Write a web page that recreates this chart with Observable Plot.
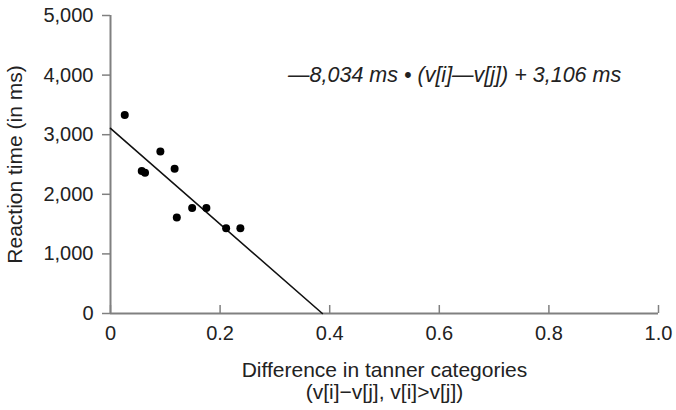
<!DOCTYPE html>
<html>
<head>
<meta charset="utf-8">
<script src="https://cdn.jsdelivr.net/npm/d3@7"></script>
<script src="https://cdn.jsdelivr.net/npm/@observablehq/plot@0.6"></script>
<style>
  html, body { margin: 0; padding: 0; background: #fff; }
  svg { font-family: "Liberation Sans", Arial, Helvetica, sans-serif; }
</style>
</head>
<body>
<div id="chart"></div>
<script>
// Data
const diff = [0.026, 0.091, 0.057, 0.063, 0.117, 0.149, 0.175, 0.121, 0.211, 0.237];
const reactionTime = [3330, 2720, 2390, 2360, 2430, 1770, 1770, 1610, 1430, 1430];
const slope = -8034;
const intercept = 3106;
const xTicks = [0, 0.2, 0.4, 0.6, 0.8, 1.0];
const xTickLabels = ["0", "0.2", "0.4", "0.6", "0.8", "1.0"];
const yTicks = [0, 1000, 2000, 3000, 4000, 5000];
const yTickLabels = ["0", "1,000", "2,000", "3,000", "4,000", "5,000"];
const equationText = ["\u20148,034 ms \u2022 (v[i]\u2014v[j]) + 3,106 ms"];
const equationPos = [{x: 0.628, y: 4000}];
const xLabel = ["Difference in tanner categories\n(v[i]\u2212v[j], v[i]>v[j])"];
const yLabel = "Reaction time (in ms)";

const points = diff.map((d, i) => ({x: d, y: reactionTime[i]}));
const fitLine = [{x: 0, y: intercept}, {x: -intercept / slope, y: 0}];
const axisColor = "#808080";
const fsTick = 20;
const fsTitle = 21;

const chart = Plot.plot({
  width: 676,
  height: 410,
  marginLeft: 110,
  marginRight: 18,
  marginTop: 15,
  marginBottom: 97,
  style: {fontFamily: '"Liberation Sans", Arial, Helvetica, sans-serif', fontSize: fsTick + "px", color: "#222", background: "#fff"},
  x: {domain: [0, 1]},
  y: {domain: [0, 5000]},
  marks: [
    Plot.axisY({ticks: yTicks, tickFormat: (d) => yTickLabels[yTicks.indexOf(d)], tickSize: 8, tickPadding: 9, stroke: axisColor, strokeWidth: 1.5, fontSize: fsTick, fill: "#222", label: null}),
    Plot.text([yLabel], {frameAnchor: "left", rotate: -90, dx: -95, fontSize: fsTitle, fill: "#222", textAnchor: "middle"}),
    Plot.axisX({ticks: xTicks, tickSize: 8, dy: -8, text: null, label: null, stroke: axisColor, strokeWidth: 1.5}),
    Plot.axisX({ticks: xTicks, tickFormat: (d) => xTickLabels[xTicks.indexOf(d)], tickSize: 0, tickPadding: 12, fontSize: fsTick, fill: "#222", label: null}),
    Plot.ruleY([0], {stroke: axisColor, strokeWidth: 2}),
    Plot.ruleX([0], {stroke: axisColor, strokeWidth: 2}),
    Plot.line(fitLine, {x: "x", y: "y", stroke: "#111", strokeWidth: 1.6}),
    Plot.dot(points, {x: "x", y: "y", r: 4, fill: "#000", stroke: "none"}),
    Plot.text(equationPos, {x: "x", y: "y", text: () => equationText[0], fontStyle: "italic", fontSize: 21.5, fill: "#222", textAnchor: "middle"}),
    Plot.text(xLabel, {frameAnchor: "bottom", lineAnchor: "top", dy: 47, fontSize: fsTitle, fill: "#222", lineHeight: 1.08})
  ]
});
document.getElementById("chart").appendChild(chart);
</script>
</body>
</html>
